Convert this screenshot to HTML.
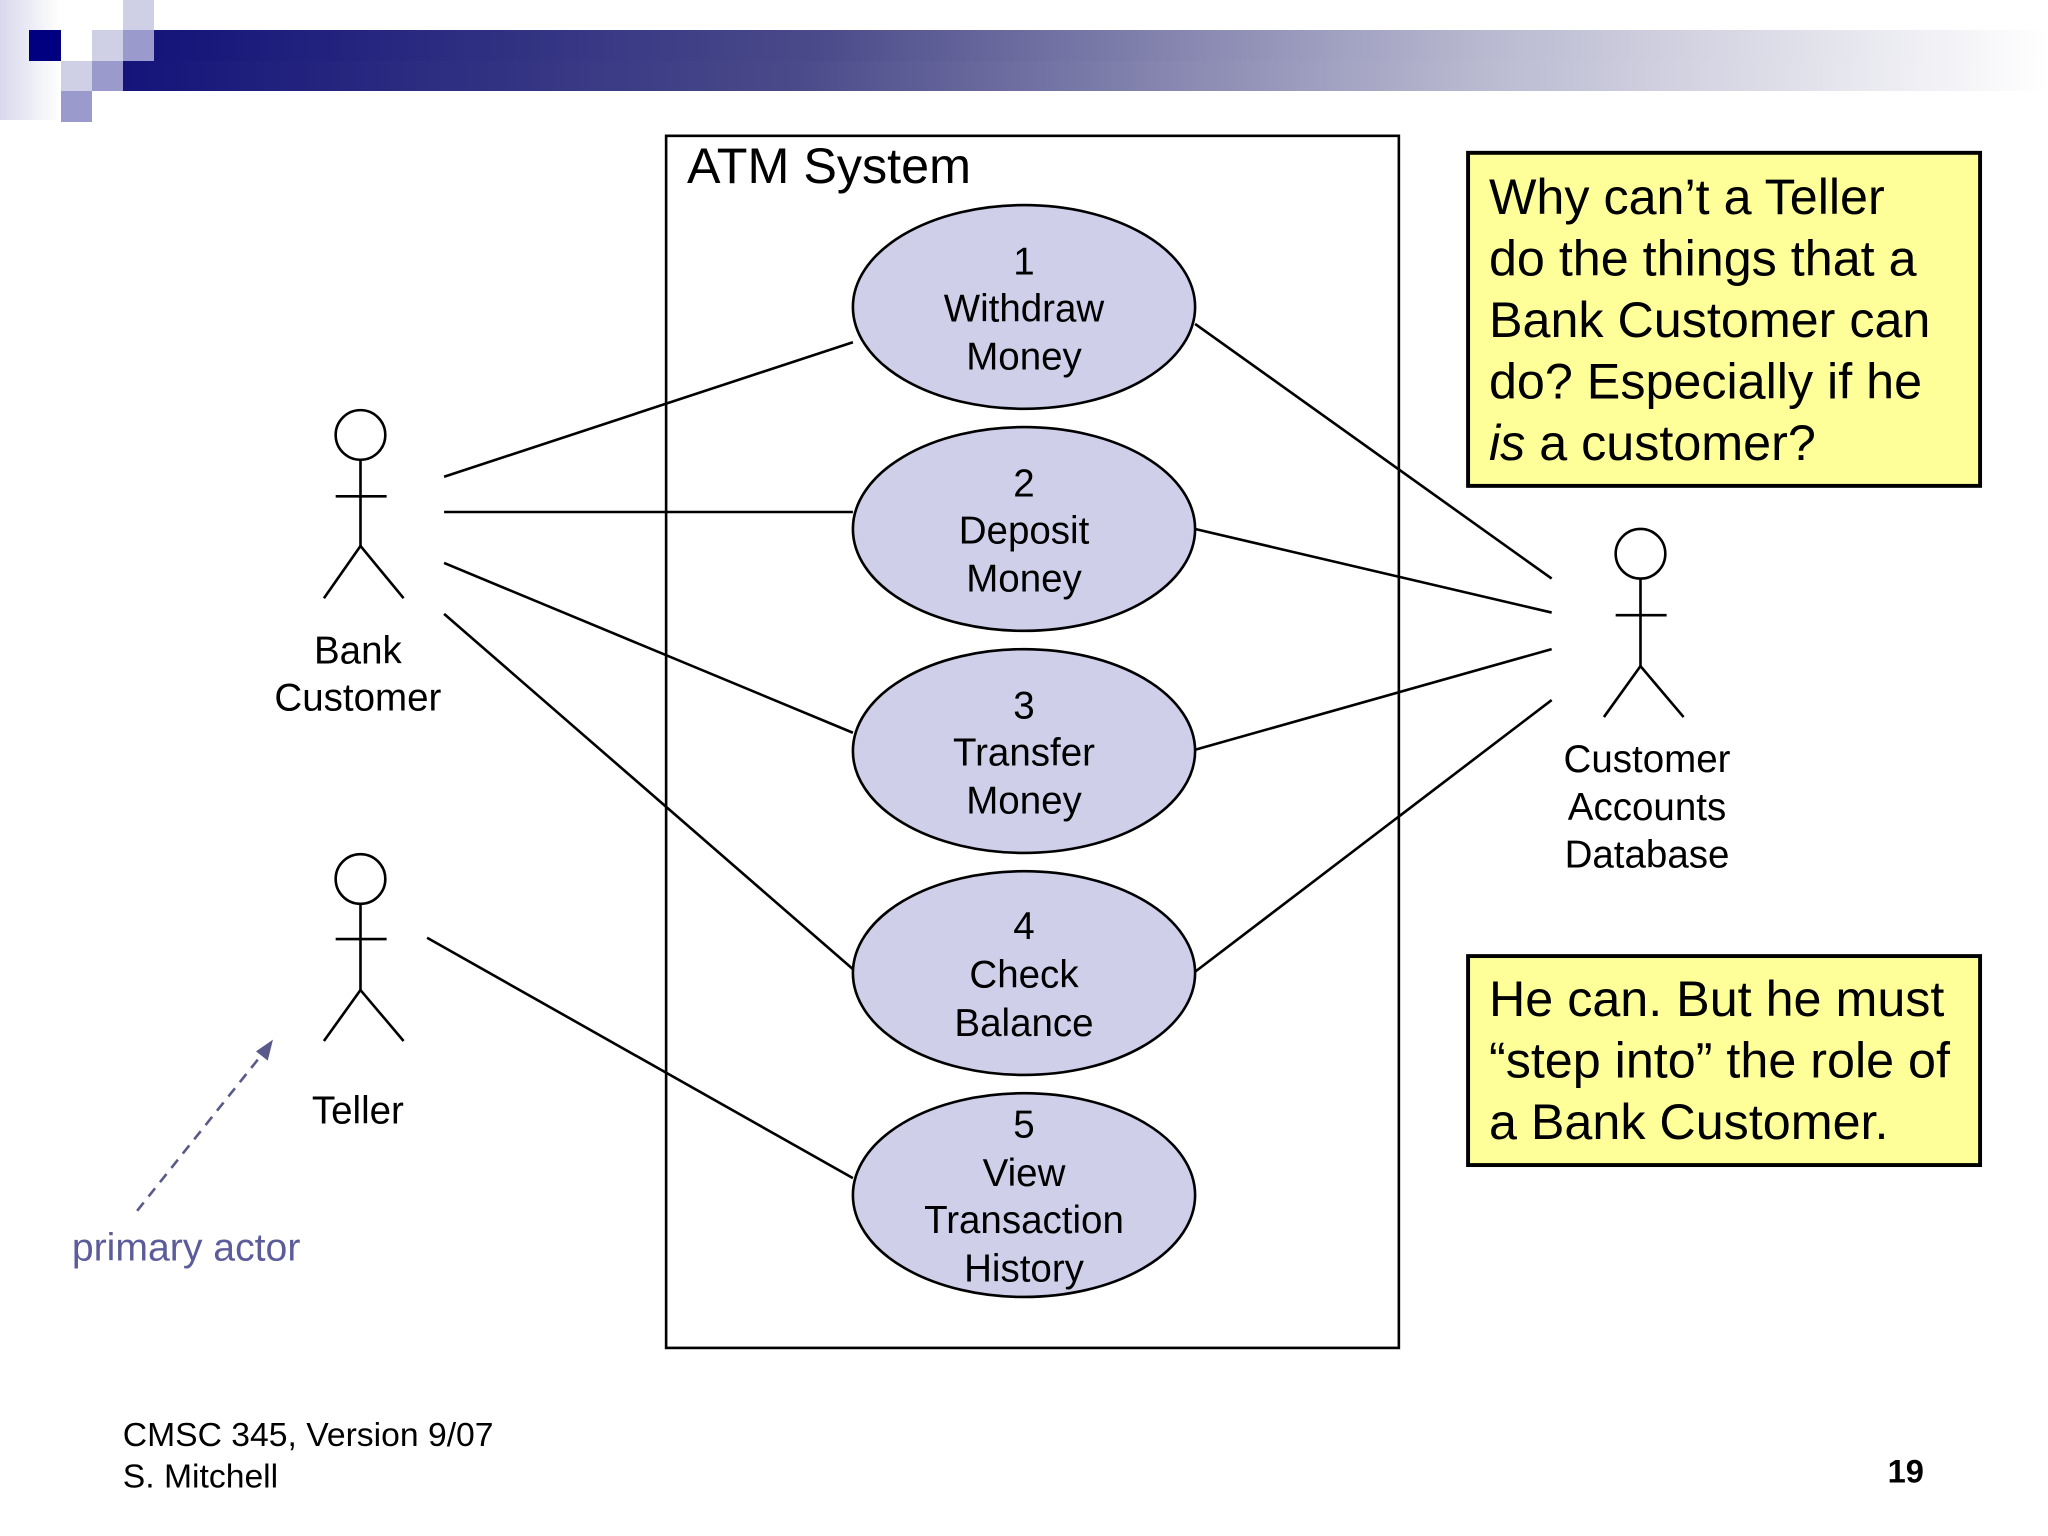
<!DOCTYPE html>
<html><head><meta charset="utf-8"><style>
html,body{margin:0;padding:0;background:#fff;width:2048px;height:1536px;overflow:hidden}
svg{display:block}
text{font-family:"Liberation Sans",Arial,sans-serif}
</style></head><body>
<svg width="2048" height="1536" viewBox="0 0 1568 1176" xmlns="http://www.w3.org/2000/svg">
<defs>
<linearGradient id="bar" x1="0" x2="1" y1="0" y2="0">
<stop offset="0" stop-color="#14147a"/><stop offset="0.35" stop-color="#4a4a8a"/><stop offset="0.7" stop-color="#b8b8d0"/><stop offset="1" stop-color="#ffffff"/>
</linearGradient>
<linearGradient id="lg" x1="0" x2="1" y1="0" y2="0">
<stop offset="0" stop-color="#d8d8ec"/><stop offset="1" stop-color="#ffffff"/>
</linearGradient>
</defs>
<g transform="scale(0.765625)">
<rect x="0" y="0" width="60" height="120" fill="url(#lg)"/>
<rect x="154" y="30" width="1894" height="31" fill="url(#bar)"/>
<rect x="123" y="61" width="1925" height="30" fill="url(#bar)"/>
<rect x="123" y="0" width="31" height="30" fill="#cfcfe6"/>
<rect x="123" y="30" width="31" height="31" fill="#9a9acc"/>
<rect x="92" y="30" width="31" height="31" fill="#cfcfe6"/>
<rect x="29" y="30" width="32" height="31" fill="#000080"/>
<rect x="92" y="61" width="31" height="30" fill="#9a9acc"/>
<rect x="61" y="61" width="31" height="30" fill="#cfcfe6"/>
<rect x="61" y="91" width="31" height="31" fill="#9a9acc"/>
</g>

<rect x="510" y="104" width="561" height="928" fill="none" stroke="#000" stroke-width="2"/>
<text x="526" y="140" font-size="38.5">ATM System</text>

<g stroke="#000" stroke-width="2" fill="none">
<line x1="340" y1="365" x2="653" y2="262"/>
<line x1="340" y1="392" x2="653" y2="392"/>
<line x1="340" y1="431" x2="653" y2="561"/>
<line x1="340" y1="470" x2="653" y2="742"/>
<line x1="327" y1="718" x2="653" y2="902"/>
<line x1="915" y1="248" x2="1188" y2="443"/>
<line x1="915" y1="405" x2="1188" y2="469"/>
<line x1="915" y1="574" x2="1188" y2="497"/>
<line x1="915" y1="744" x2="1188" y2="536"/>
</g>

<g fill="#cfcfea" stroke="#000" stroke-width="2">
<ellipse cx="784" cy="235" rx="131" ry="78"/>
<ellipse cx="784" cy="405" rx="131" ry="78"/>
<ellipse cx="784" cy="575" rx="131" ry="78"/>
<ellipse cx="784" cy="745" rx="131" ry="78"/>
<ellipse cx="784" cy="915" rx="131" ry="78"/>
</g>
<g font-size="29.5" text-anchor="middle">
<text x="784" y="210">1</text><text x="784" y="246">Withdraw</text><text x="784" y="283">Money</text>
<text x="784" y="380">2</text><text x="784" y="416">Deposit</text><text x="784" y="453">Money</text>
<text x="784" y="550">3</text><text x="784" y="586">Transfer</text><text x="784" y="623">Money</text>
<text x="784" y="719">4</text><text x="784" y="756">Check</text><text x="784" y="793">Balance</text>
<text x="784" y="871">5</text><text x="784" y="908">View</text><text x="784" y="944">Transaction</text><text x="784" y="981">History</text>
</g>

<g stroke="#000" stroke-width="2" fill="none">
<circle cx="276" cy="333" r="19"/><line x1="276" y1="352" x2="276" y2="418"/><line x1="257" y1="380" x2="296" y2="380"/><line x1="276" y1="418" x2="248" y2="458"/><line x1="276" y1="418" x2="309" y2="458"/>
<circle cx="276" cy="673" r="19"/><line x1="276" y1="692" x2="276" y2="758"/><line x1="257" y1="719" x2="296" y2="719"/><line x1="276" y1="758" x2="248" y2="797"/><line x1="276" y1="758" x2="309" y2="797"/>
<circle cx="1256" cy="424" r="19"/><line x1="1256" y1="443" x2="1256" y2="510"/><line x1="1237" y1="471" x2="1276" y2="471"/><line x1="1256" y1="510" x2="1228" y2="549"/><line x1="1256" y1="510" x2="1289" y2="549"/>
</g>
<g font-size="29.5" text-anchor="middle">
<text x="274" y="508">Bank</text><text x="274" y="544">Customer</text>
<text x="274" y="860">Teller</text>
<text x="1261" y="591">Customer</text><text x="1261" y="628">Accounts</text><text x="1261" y="664">Database</text>
</g>

<line x1="105" y1="927" x2="204" y2="803" stroke="#5a5a8a" stroke-width="2" stroke-dasharray="8,6"/>
<polygon points="209,796 196,805 205,812" fill="#5a5a8a"/>
<text x="55" y="965" font-size="30" fill="#5c5c9a">primary actor</text>

<rect x="1124" y="117" width="392" height="255" fill="#ffff99" stroke="#000" stroke-width="3"/>
<g font-size="38.5">
<text x="1140" y="164">Why can’t a Teller</text>
<text x="1140" y="211">do the things that a</text>
<text x="1140" y="258">Bank Customer can</text>
<text x="1140" y="305">do? Especially if he</text>
<text x="1140" y="352"><tspan font-style="italic">is</tspan> a customer?</text>
</g>
<rect x="1124" y="732" width="392" height="160" fill="#ffff99" stroke="#000" stroke-width="3"/>
<g font-size="38.5">
<text x="1140" y="778">He can. But he must</text>
<text x="1140" y="825">“step into” the role of</text>
<text x="1140" y="872">a Bank Customer.</text>
</g>

<text x="94" y="1107" font-size="25.8">CMSC 345, Version 9/07</text>
<text x="94" y="1139" font-size="25.8">S. Mitchell</text>
<text x="1473" y="1135" font-size="25" font-weight="bold" text-anchor="end">19</text>
</svg>
</body></html>
